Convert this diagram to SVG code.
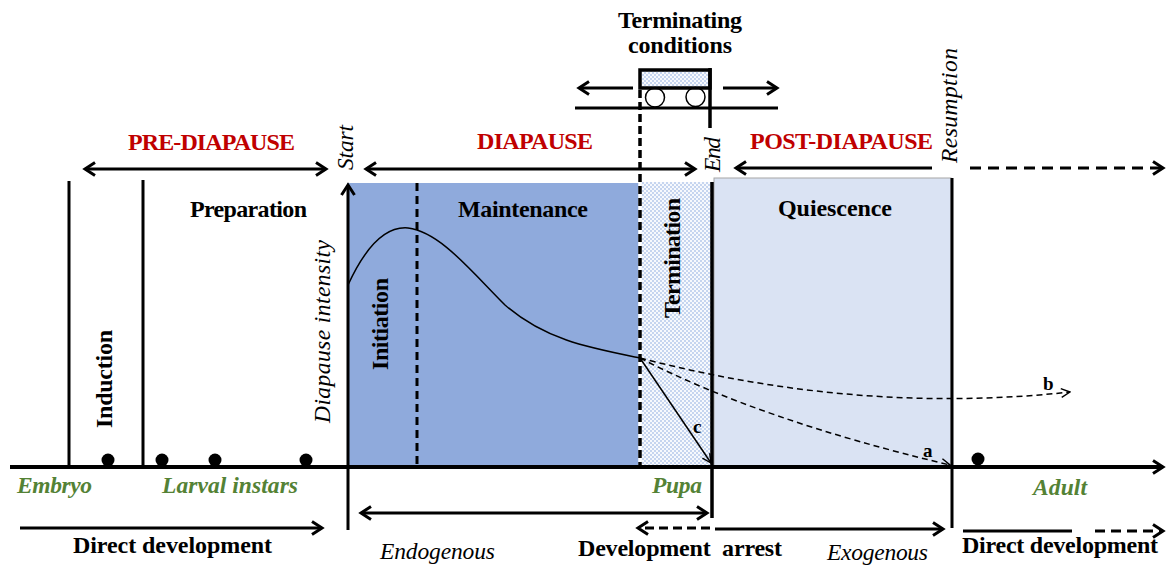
<svg xmlns="http://www.w3.org/2000/svg" width="1166" height="567" viewBox="0 0 1166 567">
<style>
.b{font-family:"Liberation Serif","Times New Roman",serif;font-weight:bold;font-size:24px;fill:#000}
.i{font-family:"Liberation Serif","Times New Roman",serif;font-style:italic;font-size:23.5px;fill:#000}
.r{fill:#C00000}
.g{fill:#548235;font-weight:bold}
.sm{font-size:19px}
.ln{stroke:#000;stroke-width:3;fill:none}
.ax{stroke:#000;stroke-width:4;fill:none}
.th{stroke:#000;stroke-width:1.5;fill:none}
.dsh{stroke:#000;stroke-width:1.5;fill:none;stroke-dasharray:6 4}
</style>
<defs>
<marker id="ah" viewBox="0 0 16 16" refX="13" refY="8" markerWidth="16" markerHeight="16" markerUnits="userSpaceOnUse" orient="auto-start-reverse"><path d="M3,1.5 L13,8 L3,14.5" fill="none" stroke="#000" stroke-width="3"/></marker>
<marker id="sa" viewBox="0 0 10 10" refX="9" refY="5" markerWidth="11" markerHeight="11" markerUnits="userSpaceOnUse" orient="auto"><path d="M1,1 L9,5 L1,9" fill="none" stroke="#000" stroke-width="1.3"/></marker>
<pattern id="dots" width="4" height="4" patternUnits="userSpaceOnUse"><rect width="4" height="4" fill="#F7F9FD"/><circle cx="1" cy="1" r="0.7" fill="#6F95D8"/><circle cx="3" cy="3" r="0.7" fill="#6F95D8"/></pattern>
</defs>

<g id="background-regions">
<rect id="diapause-region" x="347" y="183" width="293" height="284" fill="#8FAADC"/>
<rect id="termination-region" x="641" y="182" width="70" height="285" fill="url(#dots)"/>
<rect id="quiescence-region" x="714" y="178" width="237" height="289" fill="#DAE3F3" stroke="#A6A6A6" stroke-width="1"/>
</g>

<g id="terminating-conditions">
<rect x="640" y="70" width="70" height="18" fill="url(#dots)" stroke="#000" stroke-width="3.5"/>
<circle cx="655" cy="97.5" r="9.5" fill="none" stroke="#000" stroke-width="1.5"/>
<circle cx="695.5" cy="97" r="9.5" fill="none" stroke="#000" stroke-width="1.5"/>
<line class="ln" x1="575" y1="108" x2="778" y2="108"/>
<text class="b" x="680" y="28" text-anchor="middle" textLength="124">Terminating</text>
<text class="b" x="680" y="53" text-anchor="middle" textLength="104">conditions</text>
</g>

<g id="phase-labels">
<text class="b r" x="128" y="150" textLength="167">PRE-DIAPAUSE</text>
<text class="b r" x="477" y="149" textLength="116">DIAPAUSE</text>
<text class="b r" x="750" y="149" textLength="183">POST-DIAPAUSE</text>
<text class="i" transform="translate(353,170) rotate(-90)" textLength="45">Start</text>
<text class="i" transform="translate(720,172) rotate(-90)" textLength="35">End</text>
<text class="i" transform="translate(957,163) rotate(-90)" textLength="115">Resumption</text>
</g>

<g id="induction"><text class="b" transform="translate(112,428) rotate(-90)" textLength="98">Induction</text></g>
<g id="preparation"><text class="b" x="190" y="217" textLength="117">Preparation</text></g>
<g id="initiation"><text class="b" transform="translate(388,370) rotate(-90)" textLength="92">Initiation</text></g>
<g id="maintenance"><text class="b" x="458" y="217" textLength="130">Maintenance</text></g>
<g id="termination"><text class="b" transform="translate(680,318) rotate(-90)" textLength="120">Termination</text></g>
<g id="quiescence"><text class="b" x="778" y="216" textLength="114">Quiescence</text></g>
<g id="y-axis-label"><text class="i" transform="translate(330,423) rotate(-90)" textLength="183">Diapause intensity</text></g>

<g id="stage-labels">
<text class="i g" x="17" y="493" textLength="75">Embryo</text>
<text class="i g" x="162" y="493" textLength="136">Larval instars</text>
<text class="i g" x="652" y="493" textLength="50">Pupa</text>
<text class="i g" x="1033" y="495" textLength="54">Adult</text>
<circle cx="108" cy="460" r="6.5"/>
<circle cx="162" cy="460" r="6.5"/>
<circle cx="215" cy="460" r="6.5"/>
<circle cx="306" cy="460" r="6.5"/>
<circle cx="978" cy="459" r="6.5"/>
</g>

<g id="bottom-labels">
<text class="b" x="73" y="553" textLength="199">Direct development</text>
<text class="i" x="380" y="559" textLength="115">Endogenous</text>
<text class="b" x="578" y="556" textLength="204" xml:space="preserve">Development  arrest</text>
<text class="i" x="827" y="560" textLength="101">Exogenous</text>
<text class="b" x="962" y="553" textLength="196">Direct development</text>
<text class="b sm" x="923" y="457">a</text>
<text class="b sm" x="1043" y="390">b</text>
<text class="b sm" x="693" y="433">c</text>
</g>

<g id="connectors">
<line class="ln" x1="69" y1="181" x2="69" y2="467"/>
<line class="ln" x1="143" y1="180" x2="143" y2="467"/>
<line stroke="#000" stroke-width="3" stroke-dasharray="8 5" x1="417" y1="183" x2="417" y2="467"/>
<line stroke="#fff" stroke-width="3.5" x1="640" y1="183" x2="640" y2="467"/>
<line stroke="#000" stroke-width="3.5" stroke-dasharray="8 4" x1="640" y1="90" x2="640" y2="467"/>
<line stroke="#000" stroke-width="3.5" x1="710" y1="68" x2="710" y2="128"/>
<line stroke="#000" stroke-width="3.5" x1="712" y1="182" x2="712" y2="518"/>
<line class="ln" x1="952" y1="178" x2="952" y2="528"/>
<line class="ax" x1="10" y1="467" x2="1163" y2="467" marker-end="url(#ah)"/>
<line class="ln" x1="348" y1="530" x2="348" y2="185" marker-end="url(#ah)"/>
<line class="ln" x1="633" y1="88" x2="579" y2="88" marker-end="url(#ah)"/>
<line class="ln" x1="723" y1="88" x2="777" y2="88" marker-end="url(#ah)"/>
<line class="ln" x1="85" y1="169" x2="326" y2="169" marker-start="url(#ah)" marker-end="url(#ah)"/>
<line class="ln" x1="366" y1="169" x2="695" y2="169" marker-start="url(#ah)" marker-end="url(#ah)"/>
<line class="ln" x1="932" y1="168" x2="736" y2="168" marker-end="url(#ah)"/>
<line class="ln" stroke-dasharray="11 7" x1="970" y1="168" x2="1163" y2="168" marker-end="url(#ah)"/>
<line class="ln" x1="20" y1="528" x2="322" y2="528" marker-end="url(#ah)"/>
<line class="ln" x1="361" y1="513" x2="707" y2="513" marker-start="url(#ah)" marker-end="url(#ah)"/>
<line class="ln" stroke-dasharray="9 5" x1="710" y1="528" x2="638" y2="528" marker-end="url(#ah)"/>
<line class="ln" x1="715" y1="529" x2="943" y2="529" marker-end="url(#ah)"/>
<line class="ln" x1="963" y1="531" x2="1072" y2="531"/>
<line class="ln" stroke-dasharray="10 6" x1="1095" y1="531" x2="1163" y2="531" marker-end="url(#ah)"/>
<path class="th" d="M348,285 C365,248 385,226 408,228 C440,232 470,270 505,305 C545,340 590,348 640,358"/>
<line class="th" x1="640" y1="358" x2="711" y2="463" marker-end="url(#sa)"/>
<path class="dsh" d="M640,358 Q860,415 1070,392" marker-end="url(#sa)"/>
<path class="dsh" d="M640,358 Q760,420 950,465" marker-end="url(#sa)"/>
</g>
</svg>
